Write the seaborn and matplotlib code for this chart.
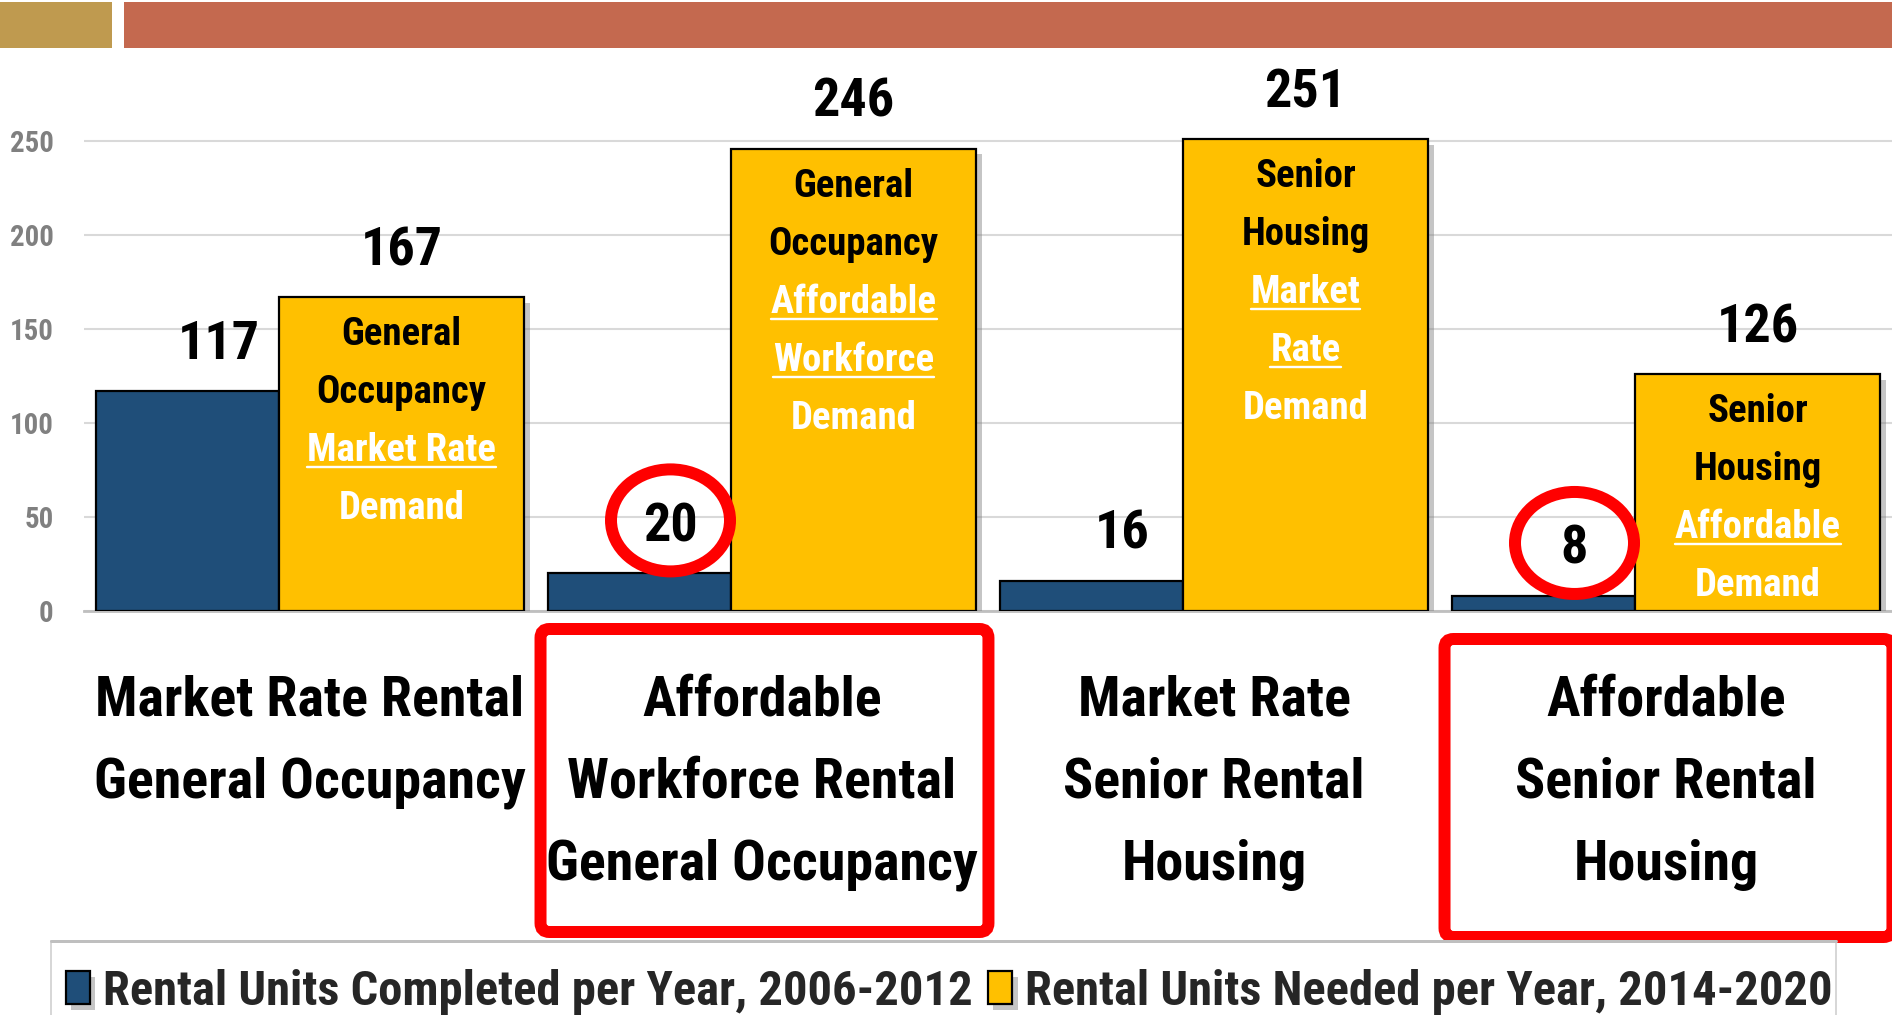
import matplotlib
matplotlib.use("Agg")
import matplotlib.pyplot as plt
import numpy as np
import seaborn as sns
from matplotlib import font_manager as fm
from matplotlib.patches import Rectangle, Ellipse, FancyBboxPatch
from matplotlib.lines import Line2D
from matplotlib.transforms import IdentityTransform, blended_transform_factory
import matplotlib.patheffects as pe

# ---------------- data ----------------
categories = [
    "Market Rate Rental\nGeneral Occupancy",
    "Affordable\nWorkforce Rental\nGeneral Occupancy",
    "Market Rate\nSenior Rental\nHousing",
    "Affordable\nSenior Rental\nHousing",
]
completed = [117, 20, 16, 8]
needed = [167, 246, 251, 126]
series_names = ["Rental Units Completed per Year, 2006-2012",
                "Rental Units Needed per Year, 2014-2020"]
inner_lines = [
    ["General", "Occupancy", "Market Rate", "Demand"],
    ["General", "Occupancy", "Affordable", "Workforce", "Demand"],
    ["Senior", "Housing", "Market", "Rate", "Demand"],
    ["Senior", "Housing", "Affordable", "Demand"],
]
highlighted = [False, True, False, True]
y_ticks = [0, 50, 100, 150, 200, 250]

# ---------------- style ----------------
NAVY = "#1F4E79"
YELLOW = "#FFC000"
GOLD = "#BF9A4F"
BRICK = "#C4694F"
RED = "#FF0000"

sns.set_theme(style="white")
avail = {f.name for f in fm.fontManager.ttflist}
FONT = "Liberation Sans"
for cand in ["Roboto Condensed", "Liberation Sans Narrow", "Open Sans Condensed",
             "Liberation Sans"]:
    if cand in avail:
        FONT = cand
        break
narrow = ("Narrow" in FONT) or ("Condensed" in FONT)
k = 1.0 if narrow else 0.85
plt.rcParams["font.family"] = [FONT, "DejaVu Sans"]

DPI = 100
W, H = 1892, 1015
fig = plt.figure(figsize=(W / DPI, H / DPI), dpi=DPI)
fig.patch.set_facecolor("white")

ax_left, ax_right, ax_bottom, ax_top = 84, 1892, 611, 47
ax = fig.add_axes([ax_left / W, 1 - ax_bottom / H,
                   (ax_right - ax_left) / W, (ax_bottom - ax_top) / H])

idx = np.arange(len(categories))
NAVY_OFF, NAVY_W = -0.271, 0.405
YEL_OFF, YEL_W = 0.2025, 0.542
navy_x = idx + NAVY_OFF
yel_x = idx + YEL_OFF

shadow = [pe.SimplePatchShadow(offset=(4, -4), shadow_rgbFace="#7F7F7F", alpha=0.45), pe.Normal()]

sns.barplot(x=navy_x, y=completed, native_scale=True, width=NAVY_W, color=NAVY,
            saturation=1, edgecolor="black", linewidth=1.6, ax=ax, label=series_names[0])
sns.barplot(x=yel_x, y=needed, native_scale=True, width=YEL_W, color=YELLOW,
            saturation=1, edgecolor="black", linewidth=1.6, ax=ax, label=series_names[1])
for p in ax.patches:
    p.set_path_effects(shadow)
    p.set_zorder(3)

ax.set_xlim(-0.5, 3.5)
ax.set_ylim(0, 300)
ax.set_yticks(y_ticks)
ax.set_xticks(idx)
ax.set_xticklabels(categories, fontsize=40.3 * k, fontweight="bold",
                   linespacing=1.73, color="black")
ax.tick_params(axis="x", length=0, pad=46)
ax.tick_params(axis="y", length=0, pad=22, labelsize=20.8 * k, labelcolor="#808080")
for lbl in ax.get_yticklabels():
    lbl.set_fontweight("bold")
ax.set_xlabel("")
ax.set_ylabel("")
ax.yaxis.grid(True, color="#D9D9D9", linewidth=1.5)
ax.xaxis.grid(False)
ax.set_axisbelow(True)
for s in ["top", "right", "left"]:
    ax.spines[s].set_visible(False)
ax.spines["bottom"].set_color("#BFBFBF")
ax.spines["bottom"].set_linewidth(2)

PX = 72 / DPI  # points per pixel

# value labels
for x, v in zip(navy_x, completed):
    ax.annotate(f"{v}", xy=(x, v), xytext=(31 * PX, 32 * PX), textcoords="offset points",
                ha="center", va="baseline", fontsize=39 * k, fontweight="bold",
                color="black", zorder=6)
for x, v in zip(yel_x, needed):
    ax.annotate(f"{v}", xy=(x, v), xytext=(0, 32 * PX), textcoords="offset points",
                ha="center", va="baseline", fontsize=39 * k, fontweight="bold",
                color="black", zorder=6)

# inner labels of the yellow bars
underlined = []
LINE_PX = 58
FIRST_PX = 48
for x, v, lines in zip(yel_x, needed, inner_lines):
    n = len(lines)
    for j, txt in enumerate(lines):
        off = FIRST_PX + LINE_PX * j
        col = "black" if j < 2 else "white"
        a = ax.annotate(txt, xy=(x, v), xytext=(0, -off * PX), textcoords="offset points",
                        ha="center", va="baseline", fontsize=27.9 * k,
                        fontweight="bold", color=col, zorder=6)
        if 2 <= j < n - 1:
            underlined.append((a, x, v, off))

# red ellipses around highlighted completed values
PX_PER_UNIT = (ax_bottom - ax_top) / 300.0
for x, v, hl in zip(navy_x, completed, highlighted):
    if hl:
        e = Ellipse((x + 31 / 452, v + 53 / PX_PER_UNIT), width=119 / 452,
                    height=102 / PX_PER_UNIT, fill=False, edgecolor=RED,
                    linewidth=12 * PX, zorder=7, clip_on=False)
        ax.add_patch(e)

# red boxes around highlighted category labels (pixel offsets below the axis)
bt = blended_transform_factory(ax.transData, ax.transAxes)
axh = ax_bottom - ax_top
box_top_px = [18, 28]
box_bot_px = [321, 326]
hb = 0
for i, hl in enumerate(highlighted):
    if hl:
        top, bot = -box_top_px[hb] / axh, -box_bot_px[hb] / axh
        hb += 1
        box = FancyBboxPatch((i - 0.49, bot), 0.991, top - bot,
                             boxstyle="round,pad=0,rounding_size=0.02",
                             mutation_aspect=(452 / axh),
                             fill=False, edgecolor=RED, linewidth=12 * PX,
                             transform=bt, clip_on=False, zorder=7)
        ax.add_patch(box)

# legend (frame drawn separately, cut by the bottom edge)
leg = ax.legend(handles=[ax.containers[0], ax.containers[1]], labels=series_names,
                loc="center left", bbox_to_anchor=(51 / W, 1 - 992 / H),
                bbox_transform=fig.transFigure, ncol=2, frameon=False,
                borderpad=0.3, borderaxespad=0,
                handlelength=0.5, handleheight=0.67, handletextpad=0.27,
                columnspacing=0.31, prop={"weight": "bold", "size": 35.0 * k})
fig.add_artist(Rectangle((51 / W, -0.05), (1836 - 51) / W, 0.05 + (1 - 941 / H),
                         transform=fig.transFigure, fill=False,
                         edgecolor="#D0D0D0", linewidth=1.2, zorder=1))
fig.add_artist(Line2D([51 / W, 1836 / W], [1 - 941 / H] * 2, transform=fig.transFigure,
                      color="#BFBFBF", linewidth=3 * PX, zorder=1))

# header band
fig.add_artist(Rectangle((0, 1 - 48 / H), 112 / W, 46 / H, transform=fig.transFigure,
                         facecolor=GOLD, edgecolor="none", zorder=10))
fig.add_artist(Rectangle((124 / W, 1 - 48 / H), 1 - 124 / W, 46 / H,
                         transform=fig.transFigure, facecolor=BRICK,
                         edgecolor="none", zorder=10))

# underlines
fig.canvas.draw()
renderer = fig.canvas.get_renderer()
for a, x, v, off in underlined:
    bb = a.get_window_extent(renderer)
    base = ax.transData.transform((x, v))[1] - off
    y = base - 6
    fig.add_artist(Line2D([bb.x0, bb.x1], [y, y], transform=IdentityTransform(),
                          color="white", linewidth=2.4 * PX, zorder=11))

fig.savefig("out.png", dpi=DPI)
